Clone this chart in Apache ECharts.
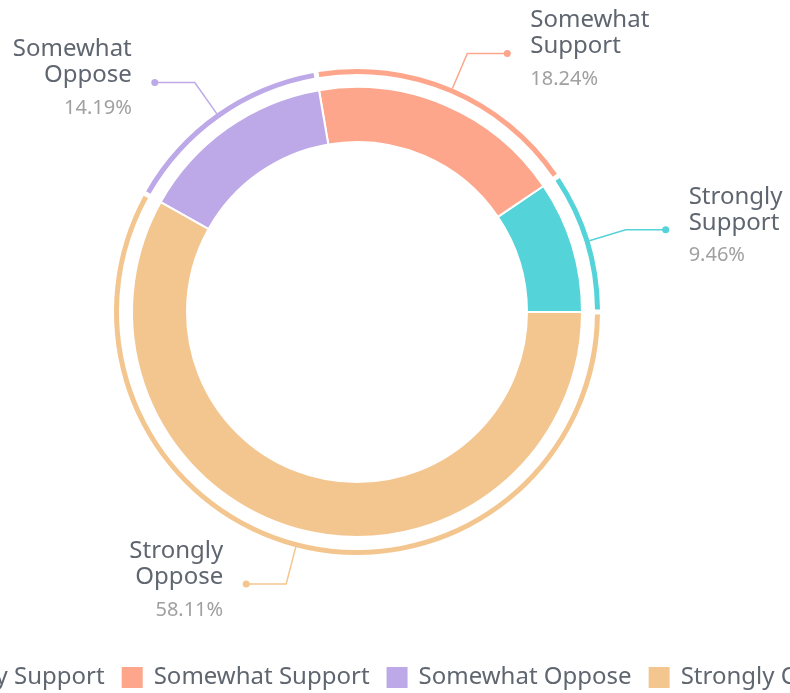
<!DOCTYPE html>
<html>
<head>
<meta charset="utf-8">
<script src="https://cdn.jsdelivr.net/npm/echarts@6/dist/echarts.min.js"></script>
<style>
  html, body { margin: 0; padding: 0; background: #fff; }
  #chart { width: 790px; height: 693px; }
</style>
</head>
<body>
<div id="chart"></div>
<script>
  // 数据
  const names = ['Strongly Support', 'Somewhat Support', 'Somewhat Oppose', 'Strongly Oppose'];
  const values = [9.46, 18.24, 14.19, 58.11];
  const colors = ['#54d3d9', '#fda68b', '#bea9e8', '#f4c68f'];

  const font = 'Noto Sans';
  const center = [357, 312];

  const chart = echarts.init(document.getElementById('chart'));

  const option = {
    color: colors,
    legend: {
      data: names,
      bottom: -2,
      left: -125,
      width: 1400,
      icon: 'rect',
      itemWidth: 23,
      itemHeight: 23,
      itemGap: 15,
      textStyle: { color: '#5f6670', fontSize: 24, fontFamily: font, padding: [0, 0, 0, 5] }
    },
    series: [
      {
        // 内环
        type: 'pie',
        center: center,
        radius: [170, 225],
        startAngle: 0,
        clockwise: false,
        silent: true,
        label: { show: false },
        labelLine: { show: false },
        itemStyle: { borderColor: '#fff', borderWidth: 2 },
        data: names.map((n, i) => ({ name: n, value: values[i] }))
      },
      {
        // 外环 + 引线圆点
        type: 'pie',
        center: center,
        radius: [238, 243],
        startAngle: 0,
        clockwise: false,
        padAngle: 1.2,
        silent: true,
        label: {
          show: true,
          formatter: '{d| }',
          distanceToLabelLine: -3.5
        },
        labelLine: { show: true, length: 38, length2: 40, lineStyle: { width: 1.5 } },
        data: names.map((n, i) => ({
          name: n,
          value: values[i],
          label: { rich: { d: { width: 7, height: 7, borderRadius: 4, backgroundColor: colors[i] } } }
        }))
      },
      {
        // 文字标签
        type: 'pie',
        center: center,
        radius: [238, 243],
        startAngle: 0,
        clockwise: false,
        padAngle: 1.2,
        silent: true,
        itemStyle: { color: 'transparent' },
        label: {
          show: true,
          overflow: 'none',
          distanceToLabelLine: 23,
          formatter: p => p.name.split(' ').map(w => '{n|' + w + '}').join('\n') +
            '\n{p|' + p.percent.toFixed(2) + '%}',
          rich: {
            n: { fontSize: 24, lineHeight: 26, color: '#5f6670', fontFamily: font },
            p: { fontSize: 20, lineHeight: 40, color: '#a0a0a0', fontFamily: font }
          }
        },
        labelLine: { show: true, length: 38, length2: 40, lineStyle: { opacity: 0 } },
        data: names.map((n, i) => ({ name: n, value: values[i] }))
      }
    ]
  };

  chart.setOption(option);
</script>
</body>
</html>
